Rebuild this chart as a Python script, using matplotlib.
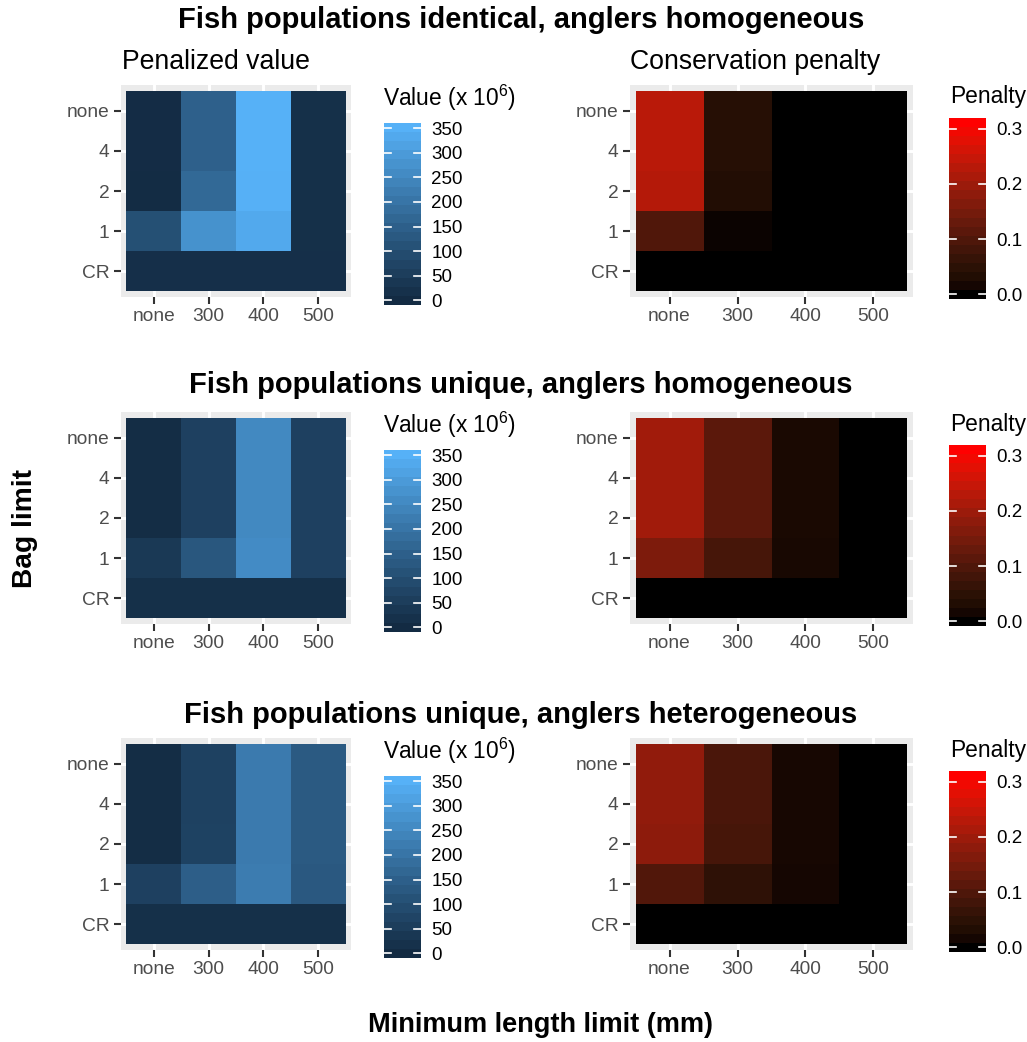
import numpy as np
import matplotlib
matplotlib.use("Agg")
import matplotlib.pyplot as plt
import matplotlib.colors as mcolors

plt.rcParams['font.family'] = ['Liberation Sans', 'DejaVu Sans']
plt.rcParams['mathtext.fontset'] = 'custom'
plt.rcParams['mathtext.rm'] = 'Liberation Sans'

# categories (bottom to top for bag limits)
length_limits = ["none", "300", "400", "500"]
bag_limits = ["CR", "1", "2", "4", "none"]

scenario_titles = [
    "Fish populations identical, anglers homogeneous",
    "Fish populations unique, anglers homogeneous",
    "Fish populations unique, anglers heterogeneous",
]

# penalized value (x 10^6), rows follow bag_limits, cols follow length_limits
value_identical = [
    [13, 13, 13, 13],
    [105, 275, 333, 15],
    [3, 172, 349, 15],
    [5, 150, 351, 15],
    [5, 150, 351, 15],
]
value_unique = [
    [15, 15, 15, 15],
    [40, 126, 260, 62],
    [6, 63, 253, 63],
    [6, 63, 253, 63],
    [6, 63, 253, 63],
]
value_hetero = [
    [15, 15, 15, 15],
    [63, 145, 222, 128],
    [6, 66, 218, 132],
    [6, 65, 218, 132],
    [6, 65, 218, 132],
]

# conservation penalty
penalty_identical = [
    [0, 0, 0, 0],
    [0.100, 0.008, 0, 0],
    [0.225, 0.035, 0, 0],
    [0.232, 0.042, 0, 0],
    [0.232, 0.042, 0, 0],
]
penalty_unique = [
    [0, 0, 0, 0],
    [0.159, 0.087, 0.020, 0],
    [0.202, 0.115, 0.023, 0],
    [0.202, 0.115, 0.023, 0],
    [0.202, 0.115, 0.023, 0],
]
penalty_hetero = [
    [0, 0, 0, 0],
    [0.103, 0.053, 0.016, 0],
    [0.179, 0.087, 0.019, 0],
    [0.184, 0.093, 0.019, 0],
    [0.184, 0.093, 0.019, 0],
]

value_limits = [0, 351]
penalty_limits = [0, 0.311]
value_breaks = [0, 50, 100, 150, 200, 250, 300, 350]
penalty_breaks = [0.0, 0.1, 0.2, 0.3]


# ggplot-like gradient: interpolate in CIE Lab
WHITE = np.array([0.95047, 1.0, 1.08883])
M = np.array([[0.4124, 0.3576, 0.1805],
              [0.2126, 0.7152, 0.0722],
              [0.0193, 0.1192, 0.9505]])


def to_lab(hexcol):
    rgb = np.array(mcolors.to_rgb(hexcol))
    lin = np.where(rgb <= 0.04045, rgb / 12.92, ((rgb + 0.055) / 1.055) ** 2.4)
    xyz = M @ lin / WHITE
    d = 6 / 29
    f = np.where(xyz > d ** 3, np.cbrt(xyz), xyz / (3 * d * d) + 4 / 29)
    return np.array([116 * f[1] - 16, 500 * (f[0] - f[1]), 200 * (f[1] - f[2])])


def from_lab(lab):
    d = 6 / 29
    fy = (lab[:, 0] + 16) / 116
    f = np.stack([fy + lab[:, 1] / 500, fy, fy - lab[:, 2] / 200], axis=1)
    xyz = np.where(f > d, f ** 3, 3 * d * d * (f - 4 / 29)) * WHITE
    lin = xyz @ np.linalg.inv(M).T
    lin = np.clip(lin, 0, 1)
    rgb = np.where(lin <= 0.0031308, lin * 12.92, 1.055 * lin ** (1 / 2.4) - 0.055)
    return np.clip(rgb, 0, 1)


def lab_cmap(lo, hi, n=256):
    t = np.linspace(0, 1, n)[:, None]
    lab = to_lab(lo) * (1 - t) + to_lab(hi) * t
    return mcolors.ListedColormap(from_lab(lab))


blue_cmap = lab_cmap("#132B43", "#56B1F7")
red_cmap = lab_cmap("#000000", "#FF0000")

W, H = 1027, 1042
fig = plt.figure(figsize=(W / 150, H / 150), dpi=150)


def px_axes(x0, y0, x1, y1):
    return fig.add_axes([x0 / W, 1 - y1 / H, (x1 - x0) / W, (y1 - y0) / H])


def px_text(x, y, s, **kw):
    fig.text(x / W, 1 - y / H, s, **kw)


def draw_heat(ax, data, cmap, lims, xpad, ypad):
    ax.set_facecolor("#EBEBEB")
    nx, ny = len(length_limits), len(bag_limits)
    ax.pcolormesh(np.arange(nx + 1) - 0.5, np.arange(ny + 1) - 0.5, np.array(data),
                  cmap=cmap, vmin=lims[0], vmax=lims[1], zorder=2)
    ax.set_xlim(-0.5 - xpad, nx - 0.5 + xpad)
    ax.set_ylim(-0.5 - ypad, ny - 0.5 + ypad)
    ax.set_xticks(range(nx))
    ax.set_xticklabels(length_limits)
    ax.set_yticks(range(ny))
    ax.set_yticklabels(bag_limits)
    ax.grid(True, color="white", linewidth=1.4, zorder=1)
    for s in ax.spines.values():
        s.set_visible(False)
    ax.tick_params(length=3.5, width=1.0, color="#333333", labelcolor="#4D4D4D",
                   labelsize=9.2, pad=2)


def draw_bar(ax, cmap, lims, breaks, labels):
    n = 20
    vals = np.linspace(lims[0], lims[1], n)
    d = vals[1] - vals[0]
    edges = np.append(vals - d / 2, vals[-1] + d / 2)
    ax.pcolormesh([0, 1], edges, vals.reshape(-1, 1), cmap=cmap,
                  vmin=lims[0], vmax=lims[1])
    ax.set_xlim(0, 1)
    ax.set_ylim(edges[0], edges[-1])
    for b in breaks:
        ax.plot([0, 0.2], [b, b], color="white", lw=0.8)
        ax.plot([0.8, 1], [b, b], color="white", lw=0.8)
    ax.set_xticks([])
    ax.yaxis.tick_right()
    ax.set_yticks(breaks)
    ax.set_yticklabels(labels)
    ax.tick_params(length=0, pad=5, labelsize=9, labelcolor="black")
    for s in ax.spines.values():
        s.set_visible(False)


values = [value_identical, value_unique, value_hetero]
penalties = [penalty_identical, penalty_unique, penalty_hetero]
row_offsets = [0, 327, 653]
title_y = [20, 385, 715]

for i in range(3):
    off = row_offsets[i]
    px_text(521, title_y[i], scenario_titles[i], ha="center", va="center",
            fontsize=14, fontweight="bold")

    ax_v = px_axes(121, 85 + off, 351, 297 + off)
    draw_heat(ax_v, values[i], blue_cmap, value_limits, 0.1, 0.137)
    ax_p = px_axes(630, 85 + off, 913, 297 + off)
    draw_heat(ax_p, penalties[i], red_cmap, penalty_limits, 0.081, 0.137)

    cb_v = px_axes(384, 123 + off, 421, 305 + off)
    draw_bar(cb_v, blue_cmap, value_limits, value_breaks, [str(b) for b in value_breaks])
    cb_p = px_axes(949, 118 + off, 986, 299 + off)
    draw_bar(cb_p, red_cmap, penalty_limits, penalty_breaks,
             ["%.1f" % b for b in penalty_breaks])

    px_text(383, 98 + off, r"Value (x 10$^{6}$)", ha="left", va="center", fontsize=10.9)
    px_text(950, 97 + off, "Penalty", ha="left", va="center", fontsize=10.9)

px_text(122, 62, "Penalized value", ha="left", va="center", fontsize=12.8)
px_text(630, 62, "Conservation penalty", ha="left", va="center", fontsize=12.8)

px_text(25, 528, "Bag limit", ha="center", va="center", rotation=90,
        fontsize=13.5, fontweight="bold")
px_text(541, 1025, "Minimum length limit (mm)", ha="center", va="center",
        fontsize=13, fontweight="bold")

fig.savefig("out.png", dpi=150)
